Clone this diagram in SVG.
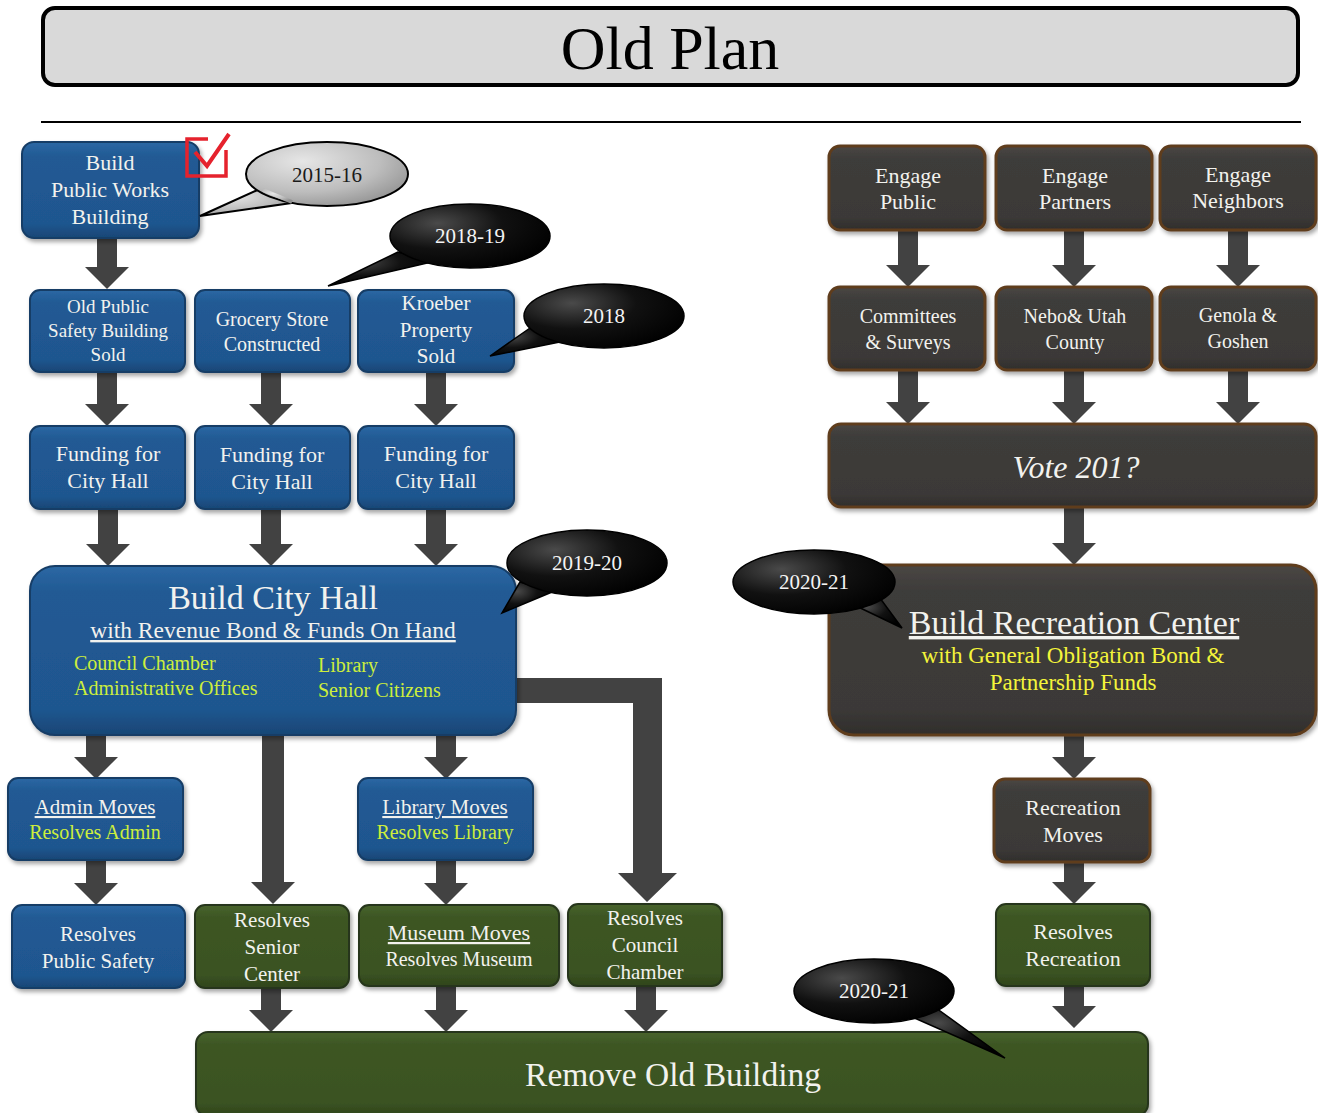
<svg xmlns="http://www.w3.org/2000/svg" width="1318" height="1113" viewBox="0 0 1318 1113">
<defs>
<linearGradient id="gBlue" x1="0" y1="0" x2="0" y2="1"><stop offset="0" stop-color="#2c68a4"/><stop offset="0.15" stop-color="#215a94"/><stop offset="0.85" stop-color="#1f568f"/><stop offset="1" stop-color="#184675"/></linearGradient>
<linearGradient id="gBrown" x1="0" y1="0" x2="0" y2="1"><stop offset="0" stop-color="#4a4744"/><stop offset="0.15" stop-color="#3e3c3a"/><stop offset="0.85" stop-color="#3b3937"/><stop offset="1" stop-color="#302d2b"/></linearGradient>
<linearGradient id="gGreen" x1="0" y1="0" x2="0" y2="1"><stop offset="0" stop-color="#48642d"/><stop offset="0.15" stop-color="#3d5624"/><stop offset="0.85" stop-color="#3a5222"/><stop offset="1" stop-color="#2f441b"/></linearGradient>
<radialGradient id="gBlack" cx="0.3" cy="0.3" r="0.8"><stop offset="0" stop-color="#4a4a4a"/><stop offset="0.5" stop-color="#111"/><stop offset="1" stop-color="#000"/></radialGradient>
<radialGradient id="gGray" cx="0.35" cy="0.3" r="0.8"><stop offset="0" stop-color="#e6e6e6"/><stop offset="0.6" stop-color="#bdbdbd"/><stop offset="1" stop-color="#8f8f8f"/></radialGradient>
<filter id="sh" x="-10%" y="-10%" width="125%" height="130%"><feDropShadow dx="2" dy="3" stdDeviation="2" flood-color="#000" flood-opacity="0.35"/></filter>
</defs>
<style>
.blue{fill:url(#gBlue);stroke:#163d66;stroke-width:2;filter:url(#sh)}
.brown{fill:url(#gBrown);stroke:#5e3c1f;stroke-width:3;filter:url(#sh)}
.green{fill:url(#gGreen);stroke:#26361a;stroke-width:2;filter:url(#sh)}
.arrow{fill:#424242}
text{font-family:"Liberation Serif","DejaVu Serif",serif;text-anchor:middle}
.t{fill:#f2f2ee}
.lime{fill:#cdee3c}
.yel{fill:#f4f43a}
.cb{fill:url(#gBlack);stroke:#000;stroke-width:1.5}
.cg{fill:url(#gGray);stroke:#000;stroke-width:2}
.ct{fill:#f4f4f4;font-size:21px}
.u{text-decoration:underline}
.l{text-anchor:start}
</style>

<g id="title">
<rect x="43" y="8" width="1255" height="77" rx="12" fill="#d9d9d9" stroke="#000" stroke-width="4"/>
<text x="670" y="69" font-size="62" fill="#000">Old Plan</text>
<line x1="41" y1="122" x2="1301" y2="122" stroke="#000" stroke-width="2"/>
</g>

<g id="connectors">
<polygon class="arrow" points="97,238 117,238 117,267 129,267 107,289 85,267 97,267"/>
<polygon class="arrow" points="97,372 117,372 117,404 129,404 107,426 85,404 97,404"/>
<polygon class="arrow" points="261,372 281,372 281,404 293,404 271,426 249,404 261,404"/>
<polygon class="arrow" points="426,372 446,372 446,404 458,404 436,426 414,404 426,404"/>
<polygon class="arrow" points="98,509 118,509 118,544 130,544 108,566 86,544 98,544"/>
<polygon class="arrow" points="261,509 281,509 281,544 293,544 271,566 249,544 261,544"/>
<polygon class="arrow" points="426,509 446,509 446,544 458,544 436,566 414,544 426,544"/>
<polygon class="arrow" points="86,735 106,735 106,757 118,757 96,779 74,757 86,757"/>
<polygon class="arrow" points="262,735 284,735 284,882 295,882 273,904 251,882 262,882"/>
<polygon class="arrow" points="436,735 456,735 456,757 468,757 446,779 424,757 436,757"/>
<polygon class="arrow" points="516,678 662,678 662,873 677,873 647,902 618,873 633,873 633,703 516,703"/>
<polygon class="arrow" points="86,860 106,860 106,883 118,883 96,905 74,883 86,883"/>
<polygon class="arrow" points="436,860 456,860 456,883 468,883 446,905 424,883 436,883"/>
<polygon class="arrow" points="261,988 281,988 281,1010 293,1010 271,1032 249,1010 261,1010"/>
<polygon class="arrow" points="436,986 456,986 456,1010 468,1010 446,1032 424,1010 436,1010"/>
<polygon class="arrow" points="636,986 656,986 656,1010 668,1010 646,1032 624,1010 636,1010"/>
<polygon class="arrow" points="898,230 918,230 918,265 930,265 908,287 886,265 898,265"/>
<polygon class="arrow" points="1064,230 1084,230 1084,265 1096,265 1074,287 1052,265 1064,265"/>
<polygon class="arrow" points="1228,230 1248,230 1248,265 1260,265 1238,287 1216,265 1228,265"/>
<polygon class="arrow" points="898,370 918,370 918,402 930,402 908,424 886,402 898,402"/>
<polygon class="arrow" points="1064,370 1084,370 1084,402 1096,402 1074,424 1052,402 1064,402"/>
<polygon class="arrow" points="1228,370 1248,370 1248,402 1260,402 1238,424 1216,402 1228,402"/>
<polygon class="arrow" points="1064,507 1084,507 1084,543 1096,543 1074,565 1052,543 1064,543"/>
<polygon class="arrow" points="1064,735 1084,735 1084,757 1096,757 1074,779 1052,757 1064,757"/>
<polygon class="arrow" points="1064,862 1084,862 1084,882 1096,882 1074,904 1052,882 1064,882"/>
<polygon class="arrow" points="1064,986 1084,986 1084,1006 1096,1006 1074,1028 1052,1006 1064,1006"/>
</g>

<g id="n-public-works">
<rect class="blue" x="22" y="142" width="177" height="96" rx="12"/>
<text class="t" font-size="22"><tspan x="110" y="170">Build</tspan><tspan x="110" y="197">Public Works</tspan><tspan x="110" y="224">Building</tspan></text>
<path d="M208,139 H187 V176 H226 V150" fill="none" stroke="#e5222d" stroke-width="3.5"/>
<path d="M195,152 L207,166 L229,134" fill="none" stroke="#e5222d" stroke-width="4"/>
</g>

<g id="n-old-public-safety">
<rect class="blue" x="30" y="290" width="155" height="82" rx="10"/>
<text class="t" font-size="19"><tspan x="108" y="313">Old Public</tspan><tspan x="108" y="337">Safety Building</tspan><tspan x="108" y="361">Sold</tspan></text>
</g>
<g id="n-grocery">
<rect class="blue" x="195" y="290" width="155" height="82" rx="10"/>
<text class="t" font-size="20"><tspan x="272" y="326">Grocery Store</tspan><tspan x="272" y="351">Constructed</tspan></text>
</g>
<g id="n-kroeber">
<rect class="blue" x="358" y="290" width="156" height="82" rx="10"/>
<text class="t" font-size="21"><tspan x="436" y="310">Kroeber</tspan><tspan x="436" y="337">Property</tspan><tspan x="436" y="363">Sold</tspan></text>
</g>

<g id="n-funding-1">
<rect class="blue" x="30" y="426" width="155" height="83" rx="10"/>
<text class="t" font-size="22"><tspan x="108" y="461">Funding for</tspan><tspan x="108" y="488">City Hall</tspan></text>
</g>
<g id="n-funding-2">
<rect class="blue" x="195" y="426" width="155" height="83" rx="10"/>
<text class="t" font-size="22"><tspan x="272" y="462">Funding for</tspan><tspan x="272" y="489">City Hall</tspan></text>
</g>
<g id="n-funding-3">
<rect class="blue" x="358" y="426" width="156" height="83" rx="10"/>
<text class="t" font-size="22"><tspan x="436" y="461">Funding for</tspan><tspan x="436" y="488">City Hall</tspan></text>
</g>

<g id="n-city-hall">
<rect class="blue" x="30" y="566" width="486" height="169" rx="25"/>
<text class="t" x="273" y="609" font-size="34">Build City Hall</text>
<text class="t u" x="273" y="638" font-size="23.5">with Revenue Bond &amp; Funds On Hand</text>
<text class="lime l" font-size="20"><tspan x="74" y="670">Council Chamber</tspan><tspan x="74" y="695">Administrative Offices</tspan></text>
<text class="lime l" font-size="20"><tspan x="318" y="672">Library</tspan><tspan x="318" y="697">Senior Citizens</tspan></text>
</g>

<g id="n-admin">
<rect class="blue" x="8" y="778" width="175" height="82" rx="10"/>
<text class="t u" x="95" y="814" font-size="21">Admin Moves</text>
<text class="lime" x="95" y="839" font-size="20">Resolves Admin</text>
</g>
<g id="n-library">
<rect class="blue" x="358" y="778" width="175" height="82" rx="10"/>
<text class="t u" x="445" y="814" font-size="21">Library Moves</text>
<text class="lime" x="445" y="839" font-size="20">Resolves Library</text>
</g>

<g id="n-public-safety">
<rect class="blue" x="12" y="905" width="173" height="83" rx="10"/>
<text class="t" font-size="21"><tspan x="98" y="941">Resolves</tspan><tspan x="98" y="968">Public Safety</tspan></text>
</g>
<g id="n-senior">
<rect class="green" x="195" y="905" width="154" height="83" rx="10"/>
<text class="t" font-size="21"><tspan x="272" y="927">Resolves</tspan><tspan x="272" y="954">Senior</tspan><tspan x="272" y="981">Center</tspan></text>
</g>
<g id="n-museum">
<rect class="green" x="359" y="905" width="200" height="81" rx="10"/>
<text class="t u" x="459" y="940" font-size="22">Museum Moves</text>
<text class="t" x="459" y="966" font-size="20">Resolves Museum</text>
</g>
<g id="n-council">
<rect class="green" x="568" y="904" width="154" height="82" rx="10"/>
<text class="t" font-size="21"><tspan x="645" y="925">Resolves</tspan><tspan x="645" y="952">Council</tspan><tspan x="645" y="979">Chamber</tspan></text>
</g>

<g id="n-remove">
<rect class="green" x="196" y="1032" width="952" height="84" rx="12"/>
<text class="t" x="673" y="1086" font-size="33.5">Remove Old Building</text>
</g>

<g id="n-engage-public">
<rect class="brown" x="829" y="146" width="156" height="84" rx="11"/>
<text class="t" font-size="22"><tspan x="908" y="183">Engage</tspan><tspan x="908" y="209">Public</tspan></text>
</g>
<g id="n-engage-partners">
<rect class="brown" x="996" y="146" width="156" height="84" rx="11"/>
<text class="t" font-size="22"><tspan x="1075" y="183">Engage</tspan><tspan x="1075" y="209">Partners</tspan></text>
</g>
<g id="n-engage-neighbors">
<rect class="brown" x="1160" y="146" width="156" height="84" rx="11"/>
<text class="t" font-size="22"><tspan x="1238" y="182">Engage</tspan><tspan x="1238" y="208">Neighbors</tspan></text>
</g>

<g id="n-committees">
<rect class="brown" x="829" y="287" width="156" height="83" rx="11"/>
<text class="t" font-size="20"><tspan x="908" y="323">Committees</tspan><tspan x="908" y="349">&amp; Surveys</tspan></text>
</g>
<g id="n-nebo">
<rect class="brown" x="996" y="287" width="156" height="83" rx="11"/>
<text class="t" font-size="20"><tspan x="1075" y="323">Nebo&amp; Utah</tspan><tspan x="1075" y="349">County</tspan></text>
</g>
<g id="n-genola">
<rect class="brown" x="1160" y="287" width="156" height="83" rx="11"/>
<text class="t" font-size="20"><tspan x="1238" y="322">Genola &amp;</tspan><tspan x="1238" y="348">Goshen</tspan></text>
</g>

<g id="n-vote">
<rect class="brown" x="829" y="424" width="487" height="83" rx="12"/>
<text class="t" x="1076" y="478" font-size="32" font-style="italic">Vote 201?</text>
</g>

<g id="n-rec-center">
<rect class="brown" x="829" y="565" width="487" height="170" rx="25"/>
<text class="t u" x="1074" y="634" font-size="34">Build Recreation Center</text>
<text class="yel" font-size="23"><tspan x="1073" y="663">with General Obligation Bond &amp;</tspan><tspan x="1073" y="690">Partnership Funds</tspan></text>
</g>

<g id="n-rec-moves">
<rect class="brown" x="994" y="779" width="156" height="83" rx="11"/>
<text class="t" font-size="22"><tspan x="1073" y="815">Recreation</tspan><tspan x="1073" y="842">Moves</tspan></text>
</g>
<g id="n-rec-resolves">
<rect class="green" x="996" y="904" width="154" height="82" rx="10"/>
<text class="t" font-size="22"><tspan x="1073" y="939">Resolves</tspan><tspan x="1073" y="966">Recreation</tspan></text>
</g>

<g id="c-2015-16">
<path class="cg" d="M262,188 L200,216 L292,203 Z"/>
<ellipse class="cg" cx="327" cy="174" rx="81" ry="32"/>
<path d="M263,190 L292,202" stroke="url(#gGray)" stroke-width="4"/>
<text x="327" y="182" font-size="21" fill="#1a1a1a">2015-16</text>
</g>
<g id="c-2018-19">
<path class="cb" d="M398,252 L328,286 L432,262 Z"/>
<ellipse class="cb" cx="470" cy="236" rx="80" ry="32"/>
<text class="ct" x="470" y="243">2018-19</text>
</g>
<g id="c-2018">
<path class="cb" d="M530,328 L490,356 L560,342 Z"/>
<ellipse class="cb" cx="604" cy="316" rx="80" ry="32"/>
<text class="ct" x="604" y="323">2018</text>
</g>
<g id="c-2019-20">
<path class="cb" d="M520,582 L502,613 L552,592 Z"/>
<ellipse class="cb" cx="587" cy="563" rx="80" ry="33"/>
<text class="ct" x="587" y="570">2019-20</text>
</g>
<g id="c-2020-21-rec">
<path class="cb" d="M852,604 L902,628 L880,598 Z"/>
<ellipse class="cb" cx="814" cy="582" rx="81" ry="32"/>
<text class="ct" x="814" y="589">2020-21</text>
</g>
<g id="c-2020-21-remove">
<path class="cb" d="M910,1016 L1005,1058 L936,1008 Z"/>
<ellipse class="cb" cx="874" cy="991" rx="80" ry="32"/>
<text class="ct" x="874" y="998">2020-21</text>
</g>
</svg>
